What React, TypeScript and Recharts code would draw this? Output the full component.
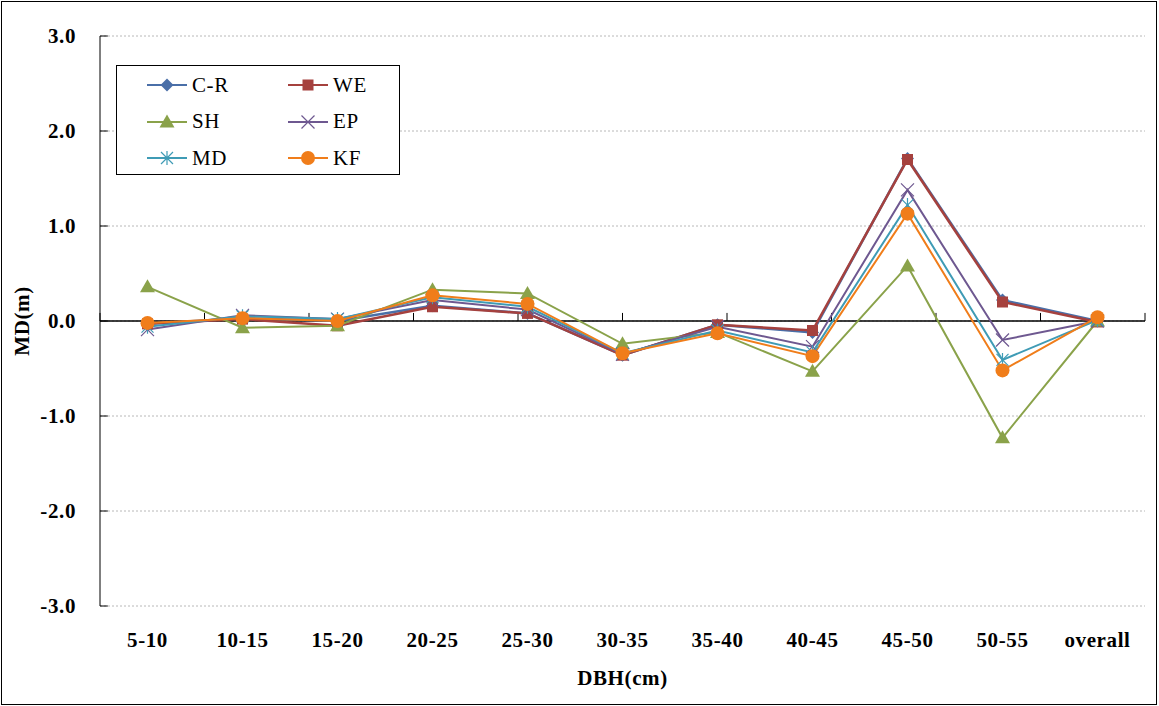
import { CartesianGrid, Line, LineChart, ReferenceLine, XAxis, YAxis } from 'recharts'

const categories = ['5-10', '10-15', '15-20', '20-25', '25-30', '30-35', '35-40', '40-45', '45-50', '50-55', 'overall']

const cr = [-0.03, 0.03, 0.0, 0.16, 0.08, -0.36, -0.04, -0.12, 1.71, 0.22, 0.0]
const we = [-0.03, 0.02, -0.05, 0.15, 0.08, -0.36, -0.04, -0.1, 1.7, 0.2, -0.01]
const sh = [0.36, -0.07, -0.05, 0.33, 0.29, -0.24, -0.12, -0.53, 0.58, -1.23, 0.0]
const ep = [-0.09, 0.06, 0.02, 0.22, 0.12, -0.35, -0.06, -0.27, 1.38, -0.2, 0.0]
const md = [-0.06, 0.05, 0.02, 0.25, 0.15, -0.34, -0.1, -0.33, 1.22, -0.41, 0.01]
const kf = [-0.02, 0.03, 0.0, 0.27, 0.18, -0.34, -0.13, -0.37, 1.13, -0.52, 0.04]

const yTicks = [-3, -2, -1, 0, 1, 2, 3]
const boundaries = [0, 1, 2, 3, 4, 5, 6, 7, 8, 9, 10, 11]

const data = categories.map((c, i) => ({
  name: c,
  cr: cr[i],
  we: we[i],
  sh: sh[i],
  ep: ep[i],
  md: md[i],
  kf: kf[i],
}))

const FONT = '"Liberation Serif", "Times New Roman", serif'

const COLORS = {
  cr: '#4A6FA8',
  we: '#A5413E',
  sh: '#8AA24A',
  ep: '#6E5890',
  md: '#3F9BB5',
  kf: '#F07D1A',
}

// marcadores no estilo do Excel
function Diamond(props: any) {
  const { cx, cy, fill } = props
  if (cx == null || cy == null) return null
  const s = 6.5
  return <path d={`M${cx},${cy - s}L${cx + s},${cy}L${cx},${cy + s}L${cx - s},${cy}Z`} fill={fill} />
}

function Square(props: any) {
  const { cx, cy, fill } = props
  if (cx == null || cy == null) return null
  return <rect x={cx - 5.5} y={cy - 5.5} width={11} height={11} fill={fill} />
}

function Triangle(props: any) {
  const { cx, cy, fill } = props
  if (cx == null || cy == null) return null
  return <path d={`M${cx},${cy - 7.5}L${cx + 7.5},${cy + 5.5}L${cx - 7.5},${cy + 5.5}Z`} fill={fill} />
}

function Cross(props: any) {
  const { cx, cy, stroke } = props
  if (cx == null || cy == null) return null
  const s = 6.5
  return (
    <path d={`M${cx - s},${cy - s}L${cx + s},${cy + s}M${cx - s},${cy + s}L${cx + s},${cy - s}`} stroke={stroke} strokeWidth={1.2} fill="none" />
  )
}

function Star(props: any) {
  const { cx, cy, stroke } = props
  if (cx == null || cy == null) return null
  const s = 6
  return (
    <path
      d={`M${cx - s},${cy - s}L${cx + s},${cy + s}M${cx - s},${cy + s}L${cx + s},${cy - s}M${cx},${cy - s - 1}L${cx},${cy + s + 1}`}
      stroke={stroke}
      strokeWidth={1.2}
      fill="none"
    />
  )
}

function Circle(props: any) {
  const { cx, cy, fill } = props
  if (cx == null || cy == null) return null
  return <circle cx={cx} cy={cy} r={7} fill={fill} />
}

const series = [
  { key: 'cr', label: 'C-R', Dot: Diamond, width: 2.5 },
  { key: 'we', label: 'WE', Dot: Square, width: 2.5 },
  { key: 'sh', label: 'SH', Dot: Triangle, width: 2 },
  { key: 'ep', label: 'EP', Dot: Cross, width: 2 },
  { key: 'md', label: 'MD', Dot: Star, width: 2 },
  { key: 'kf', label: 'KF', Dot: Circle, width: 2 },
] as const

function XTick(props: any) {
  const { x, y, payload } = props
  return (
    <text x={x} y={y + 33} textAnchor="middle" fontFamily={FONT} fontWeight="bold" fontSize={21} letterSpacing={0.6} fill="#000">
      {payload.value}
    </text>
  )
}

function YTick(props: any) {
  const { x, y, payload } = props
  return (
    <text x={x - 16} y={y + 7} textAnchor="end" fontFamily={FONT} fontWeight="bold" fontSize={21} letterSpacing={0.6} fill="#000">
      {Number(payload.value).toFixed(1)}
    </text>
  )
}

function Legend() {
  return (
    <div
      style={{
        position: 'absolute',
        left: 116,
        top: 65,
        width: 284,
        height: 110,
        border: '1px solid #000',
        background: '#fff',
        boxSizing: 'border-box',
        fontFamily: FONT,
        fontSize: 21,
        letterSpacing: 0.6,
      }}
    >
      {series.map((s, i) => {
        const color = COLORS[s.key]
        const D = s.Dot
        const col = i % 2
        const row = Math.floor(i / 2)
        return (
          <div
            key={s.key}
            style={{
              position: 'absolute',
              left: col === 0 ? 30 : 171,
              top: 8 + row * 36.5,
              height: 22,
              display: 'flex',
              alignItems: 'center',
            }}
          >
            <svg width={40} height={20} style={{ marginRight: 5 }}>
              <line x1={0} y1={10} x2={40} y2={10} stroke={color} strokeWidth={2} />
              <D cx={20} cy={10} fill={color} stroke={color} />
            </svg>
            <span>{s.label}</span>
          </div>
        )
      })}
    </div>
  )
}

export default function App() {
  return (
    <div style={{ position: 'absolute', left: 0, top: 0, width: 1159, height: 706, background: '#fff' }}>
      <div
        style={{
          position: 'absolute',
          left: 1,
          top: 1,
          width: 1156,
          height: 704,
          border: '1px solid #000',
          boxSizing: 'border-box',
        }}
      />
      <LineChart width={1159} height={706} data={data} margin={{ top: 36, right: 14, left: 0, bottom: 0 }}>
        <CartesianGrid vertical={false} stroke="#b8b8b8" strokeDasharray="2 2" />
        <XAxis
          dataKey="name"
          height={100}
          axisLine={false}
          tickLine={false}
          tick={<XTick />}
          interval={0}
          padding={{ left: 47.5, right: 47.5 }}
          label={{ value: 'DBH(cm)', position: 'insideBottom', offset: 21, fontFamily: FONT, fontWeight: 'bold', fontSize: 21, letterSpacing: 0.6, fill: '#000' }}
        />
        <XAxis xAxisId="b" type="number" domain={[0, 11]} hide />
        <YAxis
          domain={[-3, 3]}
          ticks={yTicks}
          width={100}
          axisLine={{ stroke: '#000' }}
          tickLine={false}
          tick={<YTick />}
          label={{ value: 'MD(m)', angle: -90, position: 'insideLeft', offset: 22, fontFamily: FONT, fontWeight: 'bold', fontSize: 21, letterSpacing: 0.6, fill: '#000', style: { textAnchor: 'middle' } }}
        />
        {yTicks.map((t) => (
          <ReferenceLine
            key={`yt-${t}`}
            xAxisId="b"
            segment={[{ x: 0, y: t }, { x: 0.075, y: t }]}
            stroke="#000"
          />
        ))}
        <ReferenceLine y={0} stroke="#000" strokeWidth={1.5} />
        {boundaries.map((b) => (
          <ReferenceLine
            key={`xt-${b}`}
            xAxisId="b"
            segment={[{ x: b, y: 0 }, { x: b, y: 0.085 }]}
            stroke="#000"
          />
        ))}
        {series.map((s) => (
          <Line
            key={s.key}
            dataKey={s.key}
            stroke={COLORS[s.key]}
            strokeWidth={s.width}
            dot={<s.Dot fill={COLORS[s.key]} stroke={COLORS[s.key]} />}
            activeDot={false}
            isAnimationActive={false}
          />
        ))}
      </LineChart>
      <Legend />
    </div>
  )
}
